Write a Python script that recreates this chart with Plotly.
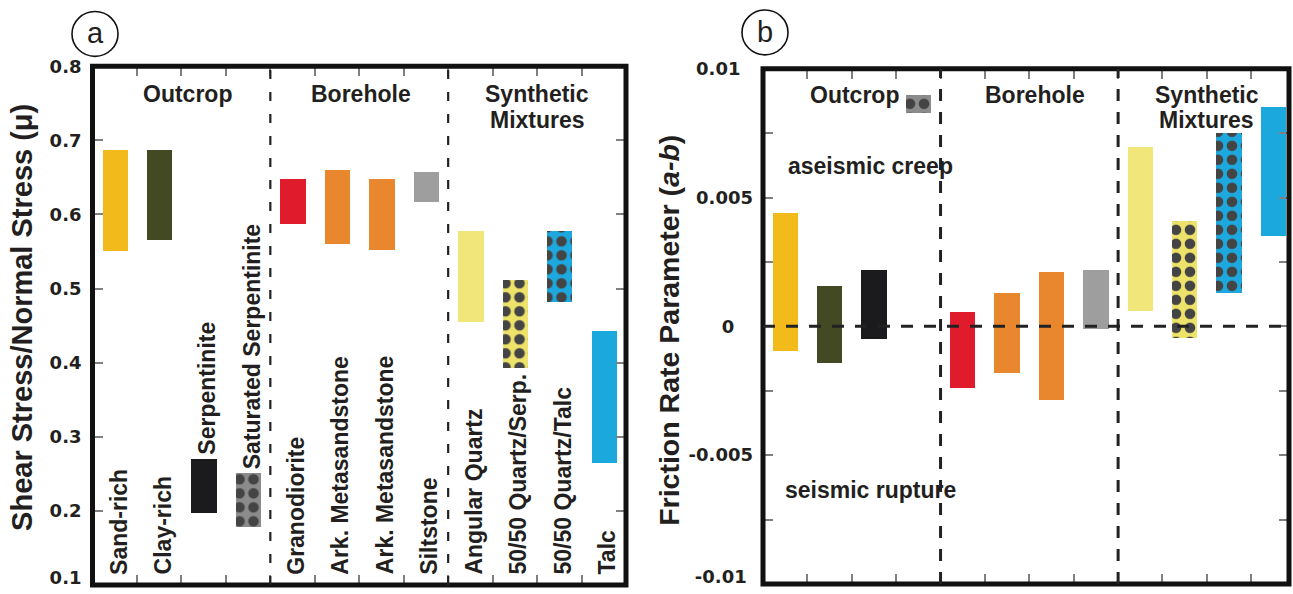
import plotly.graph_objects as go

# ---------------- data ----------------
categories = ["Sand-rich", "Clay-rich", "Serpentinite", "Saturated Serpentinite",
              "Granodiorite", "Ark. Metasandstone", "Ark. Metasandstone", "Siltstone",
              "Angular Quartz", "50/50 Quartz/Serp.", "50/50 Quartz/Talc", "Talc"]

# panel a: friction coefficient range (shear stress / normal stress)
mu_low = [0.550, 0.565, 0.196, 0.178, 0.587, 0.560, 0.551, 0.617, 0.455, 0.392, 0.482, 0.264]
mu_high = [0.687, 0.687, 0.270, 0.251, 0.647, 0.659, 0.647, 0.657, 0.577, 0.511, 0.577, 0.442]

# panel b: friction rate parameter (a-b) range
ab_low = [-0.00096, -0.00143, -0.00050, 0.00830, -0.00237, -0.00182, -0.00287, -0.00010,
          0.00059, -0.00043, 0.00130, 0.00353]
ab_high = [0.00442, 0.00159, 0.00221, 0.00900, 0.00055, 0.00130, 0.00210, 0.00218,
           0.00699, 0.00410, 0.00750, 0.00853]

colors = ["#F2BA1B", "#434923", "#1B1B1D", "#8B8B8B", "#E01B2C", "#E8872E",
          "#E8872E", "#9E9E9E", "#F0E67A", "#EEE36A", "#1DA9DF", "#1BA8DC"]
patterns = ["", "", "", ".", "", "", "", "", "", ".", ".", ""]

groups = ["Outcrop", "Borehole", "Synthetic", "Mixtures"]

mu_tickvals = [0.1, 0.2, 0.3, 0.4, 0.5, 0.6, 0.7, 0.8]
mu_ticktext = ["0.1", "0.2", "0.3", "0.4", "0.5", "0.6", "0.7", "0.8"]
ab_tickvals = [-0.01, -0.0075, -0.005, -0.0025, 0, 0.0025, 0.005, 0.0075, 0.01]
ab_ticktext = ["-0.01\u00a0", "", "-0.005", "", "0\u2007\u00a0", "", "0.005", "", "0.01\u2007"]

regime_labels = ["aseismic creep", "seismic rupture"]

# ---------------- style ----------------
W, H = 1293, 594
TXT = "#231F20"
BOLD = dict(family="Liberation Sans, Arial, sans-serif", size=23, color=TXT, weight="bold")
TICKF = dict(family="DejaVu Sans, sans-serif", size=18, color=TXT, weight="bold")

def px(xp):
    return xp / W

def py(yp):
    # screen-pixel row -> paper fraction (compensates the viewer's vertical offset)
    return 1 - ((yp - 11) / 0.98) / H

xa_dom = [px(92.5), px(626)]
ya_dom = [py(587), py(66.5)]
xb_dom = [px(763), px(1289)]
yb_dom = [py(586), py(69)]

xpos = [i + 0.5 for i in range(len(categories))]
pattern = dict(shape=patterns, fgcolor="#000000", fgopacity=1, size=14, solidity=0.45)

fig = go.Figure()
fig.add_trace(go.Bar(
    x=xpos, y=[h - l for h, l in zip(mu_high, mu_low)], base=mu_low,
    width=0.57, marker=dict(color=colors, line=dict(width=0), pattern=pattern),
    xaxis="x", yaxis="y", showlegend=False, hoverinfo="skip"))
fig.add_trace(go.Bar(
    x=xpos, y=[h - l for h, l in zip(ab_high, ab_low)], base=ab_low,
    width=0.57, marker=dict(color=colors, line=dict(width=0), pattern=pattern),
    xaxis="x2", yaxis="y2", showlegend=False, hoverinfo="skip"))
# empty traces so the overlay axes (bottom tick labels) are drawn
fig.add_trace(go.Scatter(x=[], y=[], xaxis="x", yaxis="y3", showlegend=False,
                         hoverinfo="skip", mode="markers"))
fig.add_trace(go.Scatter(x=[], y=[], xaxis="x2", yaxis="y4", showlegend=False,
                         hoverinfo="skip", mode="markers"))

tick_common = dict(ticks="inside", ticklen=10, tickwidth=1.5, tickcolor="#808080",
                   showgrid=False, zeroline=False, showline=False, mirror="ticks")
plain = dict(ticks="", showgrid=False, zeroline=False, showline=False)

# the lowest tick label sits on the bottom frame edge; it is drawn by an overlay axis
# nudged a few pixels up so that it stays inside the page
a_span = (ya_dom[1] - ya_dom[0]) * H
b_span = (yb_dom[1] - yb_dom[0]) * H
a_nudge = 7.5 * 0.7 / a_span
b_nudge = 7.0 * 0.02 / b_span

fig.update_layout(
    width=W, height=H, margin=dict(l=0, r=0, t=0, b=0),
    paper_bgcolor="white", plot_bgcolor="white", bargap=0,
    xaxis=dict(domain=xa_dom, range=[0, 12], tickvals=list(range(1, 12)),
               showticklabels=False, anchor="y", **tick_common),
    yaxis=dict(domain=ya_dom, range=[0.1, 0.8], tickvals=mu_tickvals,
               ticktext=[""] + mu_ticktext[1:],
               tickfont=TICKF, ticklabelstandoff=10, anchor="x", **tick_common),
    yaxis3=dict(domain=ya_dom, range=[0.1, 0.8], overlaying="y", anchor="x", side="left",
                tickvals=[mu_tickvals[0] + a_nudge], ticktext=[mu_ticktext[0]],
                tickfont=TICKF, ticklabelstandoff=10, **plain),
    xaxis2=dict(domain=xb_dom, range=[0, 11.85], tickvals=list(range(1, 12)),
                showticklabels=False, anchor="y2", **tick_common),
    yaxis2=dict(domain=yb_dom, range=[-0.01, 0.01], tickvals=ab_tickvals,
                ticktext=[""] + ab_ticktext[1:],
                tickfont=TICKF, ticklabelstandoff=9, anchor="x2", **tick_common),
    yaxis4=dict(domain=yb_dom, range=[-0.01, 0.01], overlaying="y2", anchor="x2", side="left",
                tickvals=[ab_tickvals[0] + b_nudge], ticktext=[ab_ticktext[0]],
                tickfont=TICKF, ticklabelstandoff=9, **plain),
)

shapes = []
# frames
for xr, yr in (("x", "y"), ("x2", "y2")):
    shapes.append(dict(type="rect", xref=f"{xr} domain", yref=f"{yr} domain",
                       x0=0, x1=1, y0=0, y1=1, line=dict(color="#111111", width=5)))
# group separators
for xv in (4, 8):
    shapes.append(dict(type="line", xref="x", yref="y domain", x0=xv, x1=xv, y0=0, y1=1,
                       line=dict(color="#222222", width=2.2, dash="9px,13px")))
    shapes.append(dict(type="line", xref="x2", yref="y2 domain", x0=xv, x1=xv, y0=0, y1=1,
                       line=dict(color="#222222", width=3, dash="12px,11px")))
# zero line panel b
shapes.append(dict(type="line", xref="x2 domain", yref="y2", x0=0, x1=1, y0=0, y1=0,
                   line=dict(color="#222222", width=3, dash="12px,11px")))
# panel-letter circles
for cx, cy in ((95, 34), (765, 32.5)):
    shapes.append(dict(type="circle", xref="paper", yref="paper",
                       x0=px(cx - 23), x1=px(cx + 23), y0=py(cy + 22.5), y1=py(cy - 22.5),
                       line=dict(color="#111111", width=1.6)))
fig.update_layout(shapes=shapes)

ann = []
# panel letters
for t, cx, cy in (("a", 95, 33), ("b", 765, 32)):
    ann.append(dict(text=t, xref="paper", yref="paper", x=px(cx), y=py(cy),
                    xanchor="center", yanchor="middle", showarrow=False,
                    font=dict(family="Liberation Sans, Arial, sans-serif", size=29, color=TXT)))
# axis titles
ann.append(dict(text="Shear Stress/Normal Stress (\u03bc)", xref="paper", yref="paper",
                x=px(22.5), y=py(318.5), textangle=-90, xanchor="center", yanchor="middle",
                showarrow=False, font=dict(BOLD, size=29)))
ann.append(dict(text="Friction Rate Parameter (<i>a-b</i>)", xref="paper", yref="paper",
                x=px(669), y=py(332), textangle=-90, xanchor="center", yanchor="middle",
                showarrow=False, font=dict(BOLD, size=28.5)))
# group headers
for xr, yr, pos in (("x", "y", [(2.14, 0.762), (6.04, 0.762), (10.0, 0.763), (10.0, 0.727)]),
                    ("x2", "y2", [(2.05, 0.0090), (6.13, 0.0090), (10.0, 0.0090), (10.0, 0.0080)])):
    for g, (gx, gy) in zip(groups, pos):
        ann.append(dict(text=g, xref=xr, yref=yr, x=gx, y=gy, xanchor="center", yanchor="middle",
                        showarrow=False, font=BOLD))
# regime labels panel b
for t, yv in zip(regime_labels, (0.00621, -0.00635)):
    ann.append(dict(text=t, xref="x2", yref="y2", x=2.43, y=yv, xanchor="center",
                    yanchor="middle", showarrow=False, font=BOLD))
# category labels panel a (vertical)
above_bar = {"Serpentinite", "Saturated Serpentinite"}
for i, c in enumerate(categories):
    base = mu_high[i] + 0.004 if c in above_bar else 0.1125
    ann.append(dict(text=c, xref="x", yref="y", x=xpos[i] + 0.08, y=base, textangle=-90,
                    xanchor="center", yanchor="bottom", showarrow=False, font=BOLD,
                    borderpad=0))
fig.update_layout(annotations=ann)

# pin the graph to the page's top-left corner (no default body margin)
page_fix = ("document.body.style.margin='0';document.body.style.overflow='hidden';"
            "var gd=document.getElementById('{plot_id}');gd.style.position='absolute';"
            "gd.style.left='0px';gd.style.top='0px';")
fig.write_html("out.html", post_script=page_fix, config={"displayModeBar": False})
